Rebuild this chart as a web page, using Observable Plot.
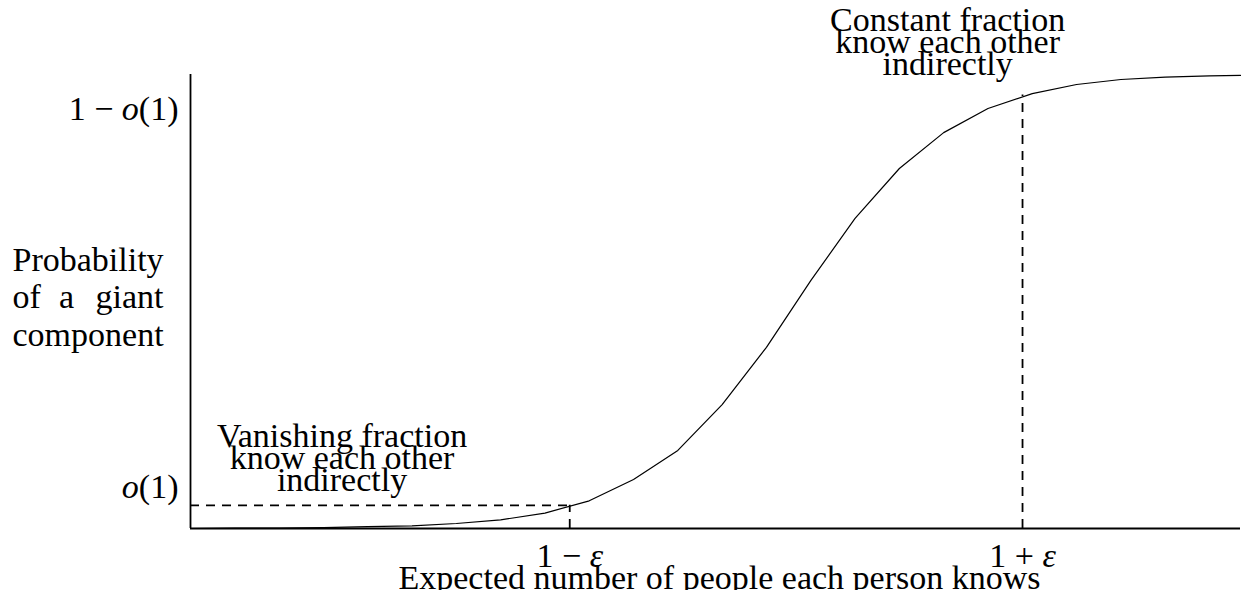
<!DOCTYPE html>
<html>
<head>
<meta charset="utf-8">
<script src="https://cdn.jsdelivr.net/npm/d3@7"></script>
<script src="https://cdn.jsdelivr.net/npm/@observablehq/plot@0.6"></script>
<style>
  html, body { margin: 0; padding: 0; background: #fff; }
  #chart svg { display: block; }
</style>
</head>
<body>
<div id="chart"></div>
<script>
// ---- data ----
const degree = [0.0, 0.1, 0.2, 0.3, 0.4, 0.5, 0.6, 0.7, 0.8, 0.9, 1.0, 1.1, 1.2,
                1.3, 1.4, 1.5, 1.6, 1.7, 1.8, 1.9, 2.0, 2.1, 2.2, 2.3, 2.37];
const probability = [0.000, 0.001, 0.001, 0.002, 0.004, 0.006, 0.011, 0.019, 0.034,
                     0.061, 0.108, 0.172, 0.273, 0.399, 0.546, 0.683, 0.793, 0.872,
                     0.925, 0.958, 0.978, 0.989, 0.994, 0.997, 0.998];

const xTickValues = [0.856, 1.878];
const xTickLabels = ["1 − ε", "1 + ε"];
const lowLevel = 0.051;     // o(1) level (dashed)
const highLevel = 0.955;    // curve level at 1 + ε (dashed)
const yLabelLevels = [0.068, 0.899];
const yLabelTexts = ["o(1)", "1 − o(1)"];

const annotationTexts = ["Vanishing fraction\nknow each other\nindirectly",
                         "Constant fraction\nknow each other\nindirectly"];
const annotationX = [0.342, 1.709];
const annotationY = [0.0815, 0.998];

const xAxisTitle = "Expected number of people each person knows";
const yTitleLines = ["Probability", "component"];
const yTitleMiddle = ["of", "a", "giant"];

// ---- derived tables ----
const curve = degree.map((d, i) => ({x: d, y: probability[i]}));
const hDash = [{y: lowLevel, x1: 0, x2: xTickValues[0]}];
const vDash = [{x: xTickValues[0], y1: 0, y2: lowLevel},
               {x: xTickValues[1], y1: 0, y2: highLevel}];
const xTicks = xTickValues.map((v, i) => ({x: v, label: xTickLabels[i]}));
const yTicks = yLabelLevels.map((v, i) => ({y: v, label: yLabelTexts[i]}));
const notes = annotationTexts.map((t, i) => ({x: annotationX[i], y: annotationY[i], text: t}));

const FONT = "Liberation Serif";
const FS = 34;

const plot = Plot.plot({
  width: 1248,
  height: 590,
  marginLeft: 190,
  marginRight: 8,
  marginTop: 74,
  marginBottom: 62,
  x: {domain: [0, 2.37], axis: null},
  y: {domain: [0, 1], axis: null},
  style: {fontFamily: FONT, background: "#fff", color: "#000", overflow: "visible"},
  marks: [
    // dashed guides
    Plot.ruleY(hDash, {y: "y", x1: "x1", x2: "x2", stroke: "#000", strokeWidth: 1.8, strokeDasharray: "9,7"}),
    Plot.ruleX(vDash, {x: "x", y1: "y1", y2: "y2", stroke: "#000", strokeWidth: 1.8, strokeDasharray: "9,7"}),
    // curve
    Plot.line(curve, {x: "x", y: "y", stroke: "#000", strokeWidth: 1.2}),
    // axes lines
    Plot.ruleX([0], {stroke: "#000", strokeWidth: 1.8}),
    Plot.ruleY([0], {stroke: "#000", strokeWidth: 1.8}),
    // x tick labels
    Plot.text(xTicks, {x: "x", y: 0, text: "label", dy: 38, lineAnchor: "bottom", fontSize: FS, fill: "#000"}),
    // y tick labels
    Plot.text(yTicks, {y: "y", text: "label", frameAnchor: "left", dx: -12, textAnchor: "end", lineAnchor: "bottom", fontSize: FS, fill: "#000"}),
    // annotations
    Plot.text(notes, {x: "x", y: "y", text: "text", lineAnchor: "bottom", lineHeight: 0.65, fontSize: FS, fill: "#000"}),
    // x axis title
    Plot.text([xAxisTitle], {frameAnchor: "bottom", dy: 60, dx: 4, lineAnchor: "bottom", fontSize: FS, fill: "#000"}),
    // y axis title (justified block)
    Plot.text([yTitleLines[0]], {frameAnchor: "left", dx: -178, dy: -31, textAnchor: "start", lineAnchor: "bottom", fontSize: FS, fill: "#000"}),
    Plot.text([yTitleMiddle[0]], {frameAnchor: "left", dx: -178, dy: 6, textAnchor: "start", lineAnchor: "bottom", fontSize: FS, fill: "#000"}),
    Plot.text([yTitleMiddle[1]], {frameAnchor: "left", dx: -124, dy: 6, textAnchor: "middle", lineAnchor: "bottom", fontSize: FS, fill: "#000"}),
    Plot.text([yTitleMiddle[2]], {frameAnchor: "left", dx: -27, dy: 6, textAnchor: "end", lineAnchor: "bottom", fontSize: FS, fill: "#000"}),
    Plot.text([yTitleLines[1]], {frameAnchor: "left", dx: -178, dy: 44, textAnchor: "start", lineAnchor: "bottom", fontSize: FS, fill: "#000"})
  ]
});

// italicise math symbols (ε and the o of o(1))
d3.select(plot).selectAll("text").each(function () {
  const t = this.textContent;
  if (!/^(1 [−+] ε|o\(1\)|1 − o\(1\))$/.test(t)) return;
  const parts = t.split(/(ε|o(?=\())/);
  this.textContent = "";
  for (const p of parts) {
    if (!p) continue;
    const ts = document.createElementNS("http://www.w3.org/2000/svg", "tspan");
    if (p === "ε" || p === "o") ts.setAttribute("font-style", "italic");
    ts.textContent = p;
    this.appendChild(ts);
  }
});

document.getElementById("chart").appendChild(plot);
</script>
</body>
</html>
